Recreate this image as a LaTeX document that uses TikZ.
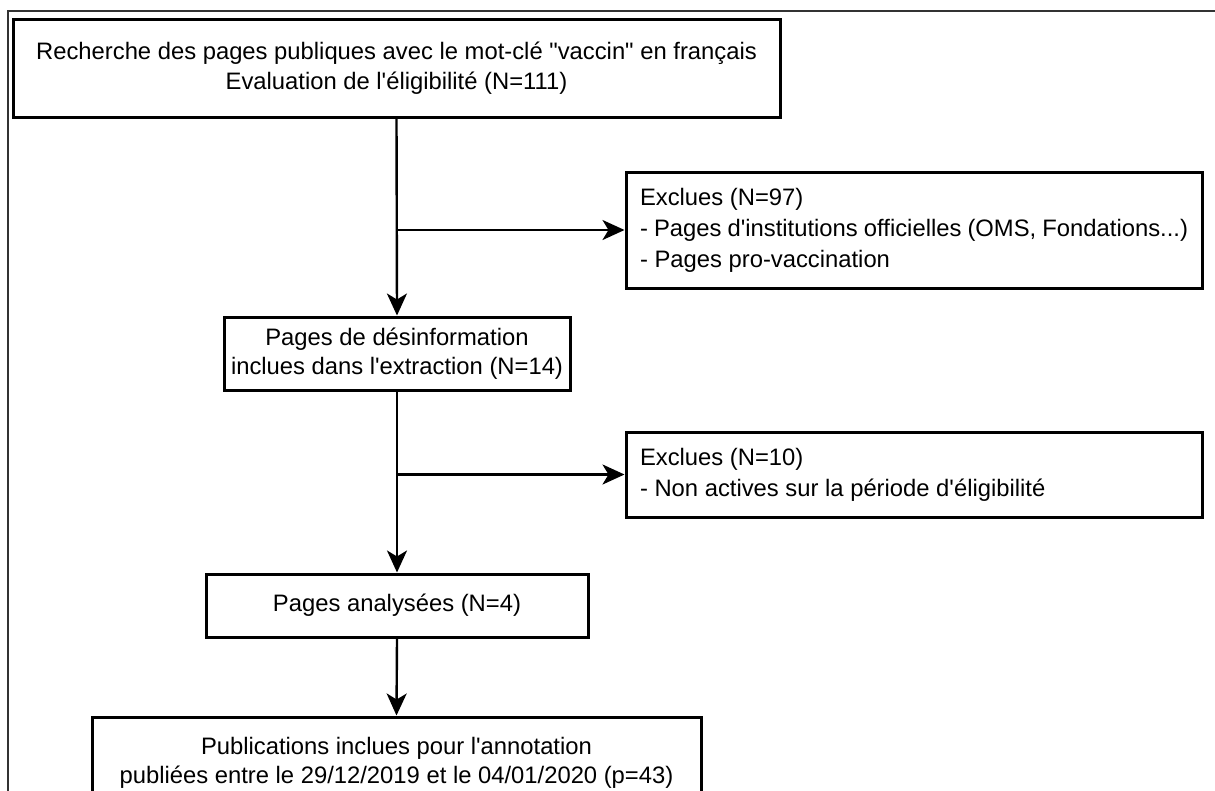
\documentclass[tikz,border=0pt]{standalone}
\usepackage{fontspec}
\newfontfamily\arialfont{Liberation Sans}
\usetikzlibrary{arrows.meta}
\begin{document}
\begin{tikzpicture}[x=1pt,y=-1pt,
  box/.style={draw=black,line width=3pt,rectangle,inner sep=0pt,
    font=\arialfont\fontsize{23.8}{29.5}\selectfont,align=center,text=black},
  arr/.style={line width=2.4pt,-{Stealth[length=22pt,width=20pt,inset=6pt]}},
  frame/.style={draw=black!80,line width=2.2pt}]
\useasboundingbox (0,0) rectangle (1215,790);
\clip (0,0) rectangle (1215,790);
\draw[frame] (8,791) -- (8,11) -- (1216,11);
\node[box,minimum width=767pt,minimum height=98pt] (b1) at (396.5,68)
  {Recherche des pages publiques avec le mot-clé "vaccin" en français\\Evaluation de l'éligibilité (N=111)};
\node[box,minimum width=346pt,minimum height=73pt] (b2) at (397,353.5)
  {Pages de désinformation\\inclues dans l'extraction (N=14)};
\node[box,minimum width=382pt,minimum height=63pt] (b3) at (397,605.5)
  {Pages analysées (N=4)};
\node[box,minimum width=609pt,minimum height=92pt] (b4) at (396.5,763)
  {Publications inclues pour l'annotation\\publiées entre le 29/12/2019 et le 04/01/2020 (p=43)};
\node[box,minimum width=576pt,minimum height=116pt,align=left] (e1) at (914,230)
  {\parbox{548pt}{\baselineskip=31pt Exclues (N=97)\\- Pages d'institutions officielles (OMS, Fondations...)\\- Pages pro-vaccination}};
\node[box,minimum width=576pt,minimum height=85pt,align=left] (e2) at (914,474.5)
  {\parbox{548pt}{\baselineskip=31pt Exclues (N=10)\\- Non actives sur la période d'éligibilité}};
\coordinate (br1) at (b1.south |- e1.west);
\coordinate (br2) at (b2.south |- e2.west);
\draw[arr] (b1.south) -- (b2.north);
\draw[arr] (br1) -- (e1.west);
\draw[arr] (b2.south) -- (b3.north);
\draw[arr] (br2) -- (e2.west);
\draw[arr] (b3.south) -- (b4.north);
\end{tikzpicture}
\end{document}
